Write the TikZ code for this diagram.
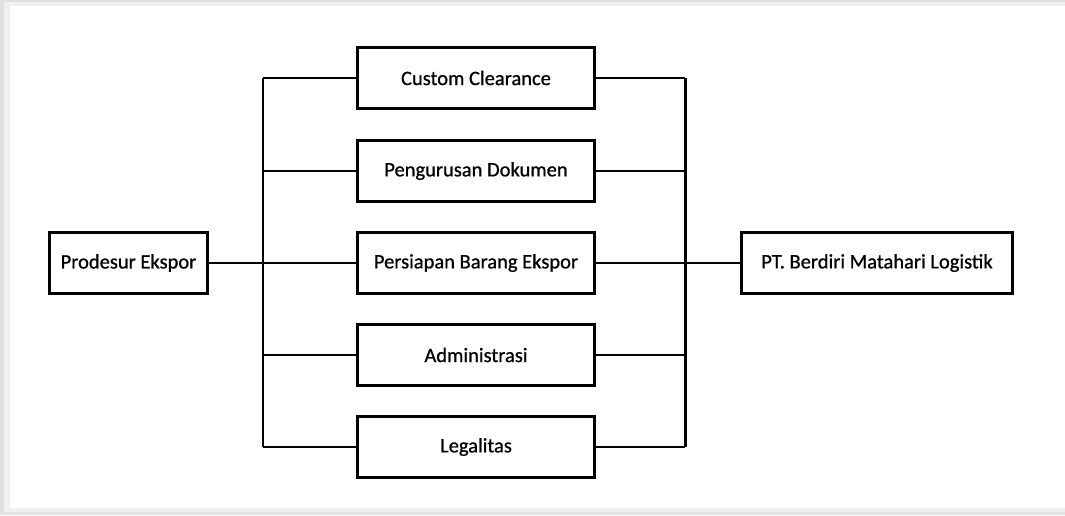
\documentclass[tikz,border=0pt]{standalone}
\usepackage{fontspec}
\setmainfont{Carlito}
\newfontfamily\boxfont[FakeBold=0.8]{Carlito}
\begin{document}
\begin{tikzpicture}[x=1pt,y=-1pt,
  box/.style={draw=black,line width=3pt,fill=white,minimum height=61pt,inner sep=0pt,font=\boxfont\fontsize{20.5}{22}\selectfont},
  mid/.style={box,minimum width=237pt},
  conn/.style={line width=2.6pt,black},
  thin/.style={line width=1.9pt,black}]
\useasboundingbox (0,0) rectangle (1065,515);
\fill[black!12] (0,0) rectangle (1065,515);
\fill[black!6] (4,2) rectangle (1065,512);
\fill[white] (10,6) rectangle (1065,508);
\node[box,minimum width=158pt] (prod) at (128.5,263) {Prodesur Ekspor};
\node[mid] (cc) at (476,78) {Custom Clearance};
\node[mid] (pd) at (476,171) {Pengurusan Dokumen};
\node[mid] (pb) at (476,263) {Persiapan Barang Ekspor};
\node[mid] (ad) at (476,355) {Administrasi};
\node[mid] (lg) at (476,447) {Legalitas};
\node[box,minimum width=271pt] (pt) at (877,263) {PT. Berdiri Matahari Logistik};
\coordinate (lt) at (263,78);
\coordinate (lb) at (263,447);
\coordinate (rt) at (685,78);
\coordinate (rb) at (685,447);
\draw[thin] (lt) -- (lb);
\draw[line width=3pt] (rt) -- (rb);
\draw[conn] (prod.east) -- (pb.west);
\draw[conn] (pb.east) -- (pt.west);
\foreach \b in {cc,ad,lg}{
  \draw[conn] (\b.west) -- (\b.west -| lt);
  \draw[conn] (\b.east) -- (\b.east -| rt);
}
\draw[thin] (pd.west) -- (pd.west -| lt);
\draw[thin] (pd.east) -- (pd.east -| rt);
\end{tikzpicture}
\end{document}
